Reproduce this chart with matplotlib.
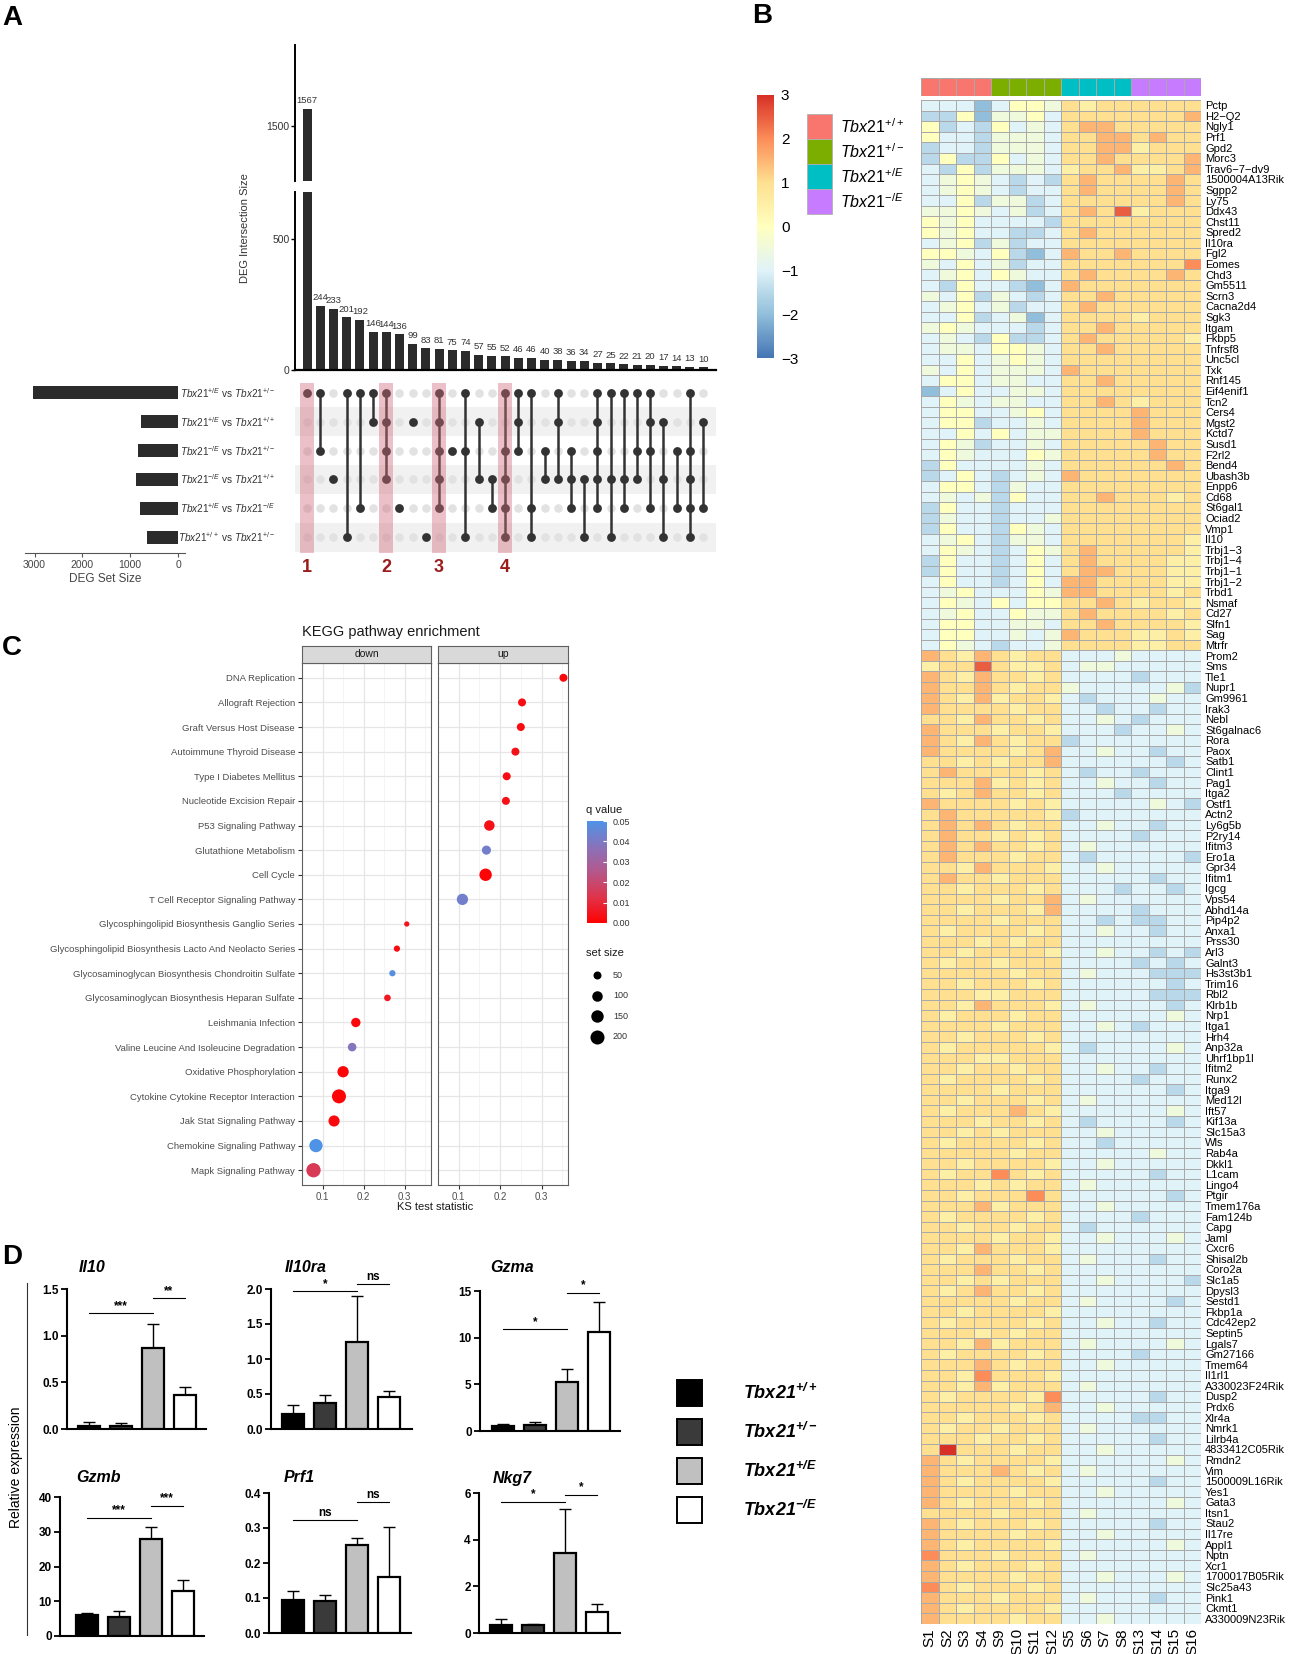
import numpy as np
import matplotlib
matplotlib.use('Agg')
import matplotlib.pyplot as plt
from matplotlib.colors import LinearSegmentedColormap, ListedColormap, Normalize
from matplotlib.patches import Rectangle
import matplotlib.cm as cm

plt.rcParams['font.family'] = ['Liberation Sans', 'DejaVu Sans']
plt.rcParams['mathtext.fontset'] = 'custom'
plt.rcParams['mathtext.rm'] = 'Liberation Sans'
plt.rcParams['mathtext.it'] = 'Liberation Sans:italic'
plt.rcParams['mathtext.bf'] = 'Liberation Sans:italic:bold'
NARROW = ['Liberation Sans Narrow', 'Liberation Sans', 'DejaVu Sans']

# ---------------- data: panel A (upset) ----------------
inter_sizes = [1567, 244, 233, 201, 192, 146, 144, 136, 99, 83, 81, 75, 74, 57, 55, 52,
               46, 46, 40, 38, 36, 34, 27, 25, 22, 21, 20, 17, 14, 13, 10]
membership = ["0", "02", "3", "05", "04", "01", "0123", "4", "1", "5", "01234", "2", "025",
              "13", "34", "02345", "012", "045", "23", "013", "234", "35", "01234", "035",
              "034", "023", "0124", "135", "24", "02345", "14"]
set_labels = [r'$\mathit{Tbx21}^{+/E}$ vs $\mathit{Tbx21}^{+/-}$',
              r'$\mathit{Tbx21}^{+/E}$ vs $\mathit{Tbx21}^{+/+}$',
              r'$\mathit{Tbx21}^{-/E}$ vs $\mathit{Tbx21}^{+/-}$',
              r'$\mathit{Tbx21}^{-/E}$ vs $\mathit{Tbx21}^{+/+}$',
              r'$\mathit{Tbx21}^{+/E}$ vs $\mathit{Tbx21}^{-/E}$',
              r'$\mathit{Tbx21}^{+/+}$ vs $\mathit{Tbx21}^{+/-}$']
set_sizes = [3030, 770, 840, 880, 790, 645]
highlight_cols = [0, 6, 10, 15]

# ---------------- data: panel B (heatmap) ----------------
sample_cols = ['S1', 'S2', 'S3', 'S4', 'S9', 'S10', 'S11', 'S12',
               'S5', 'S6', 'S7', 'S8', 'S13', 'S14', 'S15', 'S16']
sample_group = [0, 0, 0, 0, 1, 1, 1, 1, 2, 2, 2, 2, 3, 3, 3, 3]
group_colors = ['#F8766D', '#7CAE00', '#00BFC4', '#C77CFF']
group_labels = [r'$\mathit{Tbx21}^{+/+}$', r'$\mathit{Tbx21}^{+/-}$',
                r'$\mathit{Tbx21}^{+/E}$', r'$\mathit{Tbx21}^{-/E}$']
genes = ["Pctp", "H2−Q2", "Ngly1", "Prf1", "Gpd2", "Morc3", "Trav6−7−dv9", "1500004A13Rik",
         "Sgpp2", "Ly75", "Ddx43", "Chst11", "Spred2", "Il10ra", "Fgl2", "Eomes", "Chd3",
         "Gm5511", "Scrn3", "Cacna2d4", "Sgk3", "Itgam", "Fkbp5", "Tnfrsf8", "Unc5cl", "Txk",
         "Rnf145", "Eif4enif1", "Tcn2", "Cers4", "Mgst2", "Kctd7", "Susd1", "F2rl2", "Bend4",
         "Ubash3b", "Enpp6", "Cd68", "St6gal1", "Ociad2", "Vmp1", "Il10", "Trbj1−3", "Trbj1−4",
         "Trbj1−1", "Trbj1−2", "Trbd1", "Nsmaf", "Cd27", "Slfn1", "Sag", "Mtrfr",
         "Prom2", "Sms", "Tle1", "Nupr1", "Gm9961", "Irak3", "Nebl", "St6galnac6", "Rora",
         "Paox", "Satb1", "Clint1", "Pag1", "Itga2", "Ostf1", "Actn2", "Ly6g5b", "P2ry14",
         "Ifitm3", "Ero1a", "Gpr34", "Ifitm1", "Igcg", "Vps54", "Abhd14a", "Pip4p2", "Anxa1",
         "Prss30", "Arl3", "Galnt3", "Hs3st3b1", "Trim16", "Rbl2", "Klrb1b", "Nrp1", "Itga1",
         "Hrh4", "Anp32a", "Uhrf1bp1l", "Ifitm2", "Runx2", "Itga9", "Med12l", "Ift57", "Kif13a",
         "Slc15a3", "Wls", "Rab4a", "Dkkl1", "L1cam", "Lingo4", "Ptgir", "Tmem176a", "Fam124b",
         "Capg", "Jaml", "Cxcr6", "Shisal2b", "Coro2a", "Slc1a5", "Dpysl3", "Sestd1", "Fkbp1a",
         "Cdc42ep2", "Septin5", "Lgals7", "Gm27166", "Tmem64", "Il1rl1", "A330023F24Rik",
         "Dusp2", "Prdx6", "Xlr4a", "Nmrk1", "Lilrb4a", "4833412C05Rik", "Rmdn2", "Vim",
         "1500009L16Rik", "Yes1", "Gata3", "Itsn1", "Stau2", "Il17re", "Appl1", "Nptn", "Xcr1",
         "1700017B05Rik", "Slc25a43", "Pink1", "Ckmt1", "A330009N23Rik"]
# z-score levels per cell: a=-2.5 b=-2 c=-1.5 d=-1 e=-0.5 f=0 g=0.5 h=1 i=1.5 j=2 k=2.5 l=3
heat_rows = [
    "dddb dffe hghh hhhh", "ccfb eefd hhhh hhhi", "fcdc fded hiih hhhh", "fddc eeed hhii hihh",
    "cddc eeed hhii ghhh", "cfcc fded hhih hhhi", "dcfc eeed ghhi gghi", "defe dcdc hihh hhih",
    "defe dcdd hihh hhih", "ddfc eecd hhhh hhih", "eefe decd hihk ghhh", "fefd dddc hhhh hhhh",
    "fefd dccd hihh hhhh", "defc ecdd hhhh hhhh", "ffed fcbd ihhi hhhh", "edfd ecdd hhhh hhhj",
    "defd fedd hihh hhih", "dcfd dcbd ihhh hhhh", "edfc edcd hhih hhhh", "defd ecdd hihh hhhh",
    "ddfc debd hhhh ghhh", "efed ddcd hhih hhhh", "dedc fccd hihh hhhg", "deed ffed hhih hhhh",
    "ddfd efed hhhh hhhh", "edfd eeed ihhh hhhh", "dffd eedd hhih hhhh", "bdfd deed hhhh hhhh",
    "dfed eedd hhih ghhh", "dffd defd hhhh ihhh", "dffc dded hhhh ihhh", "ddfd fdee hhhh ihhh",
    "dfec dded hhhh hihh", "dfed ddfe hhhh hihh", "cfdd dded hhhh hhih", "cdfd cded ihhh hhhh",
    "dffd cedd hhhh hhhh", "dede cfdd hhih hhgh", "cfdd cddd hhhh hhhh", "cedd cdde hhhh hhhh",
    "cfdd cfed hhhh hhhh", "defd ceed hhhh hhhg", "dfed cdfe hihh hhhg", "cfdd cdfd hihh hhgg",
    "cfdd cdfd hiih hhgg", "dfdd cdfd iihh hhgg", "defd ddfe iihh hhgh", "dfed fdff hhih ghhg",
    "defd dfee hihh hhgh", "dffd deed hhih hhhg", "dffd dede ihhh gghg", "dfed cdde hhhh gghh",
    "ihgi hghh ddde dddd", "ghhk hggh deed dddd", "ihgi hhgh dddd cddd", "ihhi hghh eddd ddec",
    "ihgi ghhg dcdd dedd", "ihhh hghh ddcd dcdd", "hhgi hhgh dded cddd", "ihhh ghhg dddc dded",
    "ihgi hghh cddd dddd", "ihhh hghi dded dcdd", "hhgh ghhi dddd ddcd", "hihh hhgh dcdd cddd",
    "hhhi ghgh dded dcdd", "hghi hhgh dddc dddd", "ihhh hghg dddd dedc", "hihh hhhg cddd dddd",
    "hihi hghh dded dcdd", "hihh ghgh dddd cddd", "hihi hhgh dedd dddd", "hihh hghh dcdd dddc",
    "hhgi hhhg dded dddd", "hihh ghhh dddd dcdd", "hhgh hhgh dddc ddcd", "hhhh ghhi dedd dddd",
    "hhgh hhgi dddd cddd", "hhhh ghhh ddcd ccdd", "hghh hhgh dded dcdd", "hhhg hghh dddd dddd",
    "hhgh hhhg dded dcdc", "hghh ghhh dddd cdcd", "hhhh hghh dedd dccc", "hhgh hhgh dddd ddcd",
    "hhhg ghhh dddd dccc", "hhgi hhhg dedd ddcd", "hghh hghh dddd dded", "hhhh ghhh dded cddd",
    "hhgh hhgh dddd dddd", "hghh hhhg dcdd dded", "hhhg ghhh dddd dddd", "hhgh hghh dded dcdd",
    "hghh hhgh dddd cddd", "hhhh ghhh dddd ddcd", "hhgh hhgh dedd dddd", "hghh hihg dddd dded",
    "hhhg hhgh dcdd ddcd", "hhgh ghhh dded dddd", "hghh hhgh ddcd dddd", "hhhh hghh dddd dedd",
    "hhgh hhhg dded dddd", "hghh jhgh dddd dcdd", "hhhg hghh dedd dddd", "hhgh hhjh dddd ddcd",
    "hhhi ghhh dded dddd", "hghh hhgh dddd cddd", "hhgh hghh dcdd dddd", "hhhh ghhg dded dded",
    "hhgi hhhg dddd dddd", "hghh hghh dedd dcdd", "hhhi hhgh dddd dddd", "hhgh ghhh dded dddc",
    "hghi hhgh dddd dddd", "hhhh hghh dedd ddcd", "hhgh hhhg dddd dddd", "hghh hhgh dded dcdd",
    "hhhg hghh dddd dddd", "hhgi ghhh dedd dded", "hghh hhgh dddd cddd", "hhhi hghh dded dddd",
    "hhgj hhhg dddd dddd", "hhgi ghhh dedd dddd", "hghh hhgj dddd dcdd", "hhhh hghi dded dddd",
    "hhgh hhgh dddd ccdd", "hghh ghhh dedd dddd", "hhhg hhgh dddd dcdd", "hlhh hghh dded dddd",
    "ihgh hhhg dddd dded", "ihhh ihgh dedd dddd", "ihgh hhhg dddd dcdd", "ihhh hghh dded dddd",
    "ihgh hhgh dddd dded", "hhhh ghhh dedd dddd", "ihgh hhgh dddd dcdd", "ihhh hghh dded dddd",
    "ihgh hhhg dddd dded", "jhhh ghhh dedd dddd", "ihgh hhgh dddd dddd", "ihhh hghh dded dded",
    "jhgh hhgh dddd dddd", "ihhh ghhh dedd dcdd", "ihgh hhhg dddd dddd", "ihhh hghh dded dddd"]
level_of = dict(zip("abcdefghijkl", np.arange(-2.5, 3.01, 0.5)))

# ---------------- data: panel C (KEGG) ----------------
pathways = ["DNA Replication", "Allograft Rejection", "Graft Versus Host Disease",
            "Autoimmune Thyroid Disease", "Type I Diabetes Mellitus", "Nucleotide Excision Repair",
            "P53 Signaling Pathway", "Glutathione Metabolism", "Cell Cycle",
            "T Cell Receptor Signaling Pathway", "Glycosphingolipid Biosynthesis Ganglio Series",
            "Glycosphingolipid Biosynthesis Lacto And Neolacto Series",
            "Glycosaminoglycan Biosynthesis Chondroitin Sulfate",
            "Glycosaminoglycan Biosynthesis Heparan Sulfate", "Leishmania Infection",
            "Valine Leucine And Isoleucine Degradation", "Oxidative Phosphorylation",
            "Cytokine Cytokine Receptor Interaction", "Jak Stat Signaling Pathway",
            "Chemokine Signaling Pathway", "Mapk Signaling Pathway"]
direction = ["up"] * 10 + ["down"] * 11
ks_stat = [0.353, 0.253, 0.250, 0.237, 0.216, 0.214, 0.174, 0.167, 0.165, 0.109,
           0.305, 0.281, 0.270, 0.258, 0.181, 0.172, 0.150, 0.140, 0.128, 0.084, 0.078]
q_value = [0.002, 0.003, 0.003, 0.004, 0.003, 0.004, 0.004, 0.042, 0.001, 0.042,
           0.005, 0.003, 0.048, 0.006, 0.002, 0.038, 0.001, 0.001, 0.002, 0.050, 0.015]
set_size = [50, 50, 50, 50, 50, 50, 100, 70, 150, 120,
            15, 25, 25, 30, 75, 60, 120, 200, 115, 175, 210]

# ---------------- data: panel D (qPCR) ----------------
d_genes = ['Il10', 'Il10ra', 'Gzma', 'Gzmb', 'Prf1', 'Nkg7']
d_means = [[0.03, 0.03, 0.87, 0.36], [0.21, 0.37, 1.24, 0.46], [0.5, 0.6, 5.2, 10.6],
           [6.0, 5.4, 27.8, 13.0], [0.094, 0.091, 0.252, 0.159], [0.35, 0.33, 3.45, 0.88]]
d_err_top = [[0.07, 0.06, 1.13, 0.45], [0.34, 0.48, 1.90, 0.54], [0.7, 1.0, 6.6, 13.8],
             [6.6, 7.2, 31.5, 16.2], [0.12, 0.11, 0.272, 0.303], [0.6, 0.4, 5.3, 1.25]]
d_ymax = [1.5, 2.0, 15, 40, 0.4, 6]
d_yticks = [[0.0, 0.5, 1.0, 1.5], [0.0, 0.5, 1.0, 1.5, 2.0], [0, 5, 10, 15],
            [0, 10, 20, 30, 40], [0.0, 0.1, 0.2, 0.3, 0.4], [0, 2, 4, 6]]
d_sig = [[(0, 2, 1.24, '***'), (2, 3, 1.40, '**')], [(0, 2, 1.97, '*'), (2, 3, 2.07, 'ns')],
         [(0, 2, 10.9, '*'), (2, 3, 14.8, '*')], [(0, 2, 34.1, '***'), (2, 3, 37.5, '***')],
         [(0, 2, 0.323, 'ns'), (2, 3, 0.373, 'ns')], [(0, 2, 5.63, '*'), (2, 3, 5.93, '*')]]
d_labels = [r'$\mathbf{Tbx21^{+/+}}$', r'$\mathbf{Tbx21^{+/-}}$',
            r'$\mathbf{Tbx21^{+/E}}$', r'$\mathbf{Tbx21^{-/E}}$']
d_colors = ['#000000', '#3a3a3a', '#c0c0c0', '#ffffff']

W, H = 1299, 1654
fig = plt.figure(figsize=(W / 100, H / 100), dpi=100)


def box(x0, y0, x1, y1):
    return [x0 / W, 1 - y1 / H, (x1 - x0) / W, (y1 - y0) / H]


ov = fig.add_axes([0, 0, 1, 1])
ov.set_xlim(0, W)
ov.set_ylim(H, 0)
ov.axis('off')
for letter, x, y in [('A', 2, 18), ('B', 752, 16), ('C', 2, 648), ('D', 2, 1257)]:
    ov.text(x, y, letter, fontsize=20, fontweight='bold', va='center', ha='left')

# ================= panel A =================
n = len(inter_sizes)
xs = np.arange(n)
xlim_a = (-0.91, 30.98)
axU = fig.add_axes(box(295, 45, 716, 181))
axL = fig.add_axes(box(295, 192, 716, 370))
for ax, lo, hi in [(axU, 1290, 1810), (axL, 0, 680)]:
    ax.bar(xs, inter_sizes, width=0.68, color='#2b2b2b')
    ax.set_ylim(lo, hi)
    ax.set_xlim(*xlim_a)
    ax.set_xticks([])
    for s in ['top', 'right']:
        ax.spines[s].set_visible(False)
    ax.spines['left'].set_linewidth(1.4)
    ax.tick_params(axis='y', labelsize=7.5, length=3, width=1, pad=1, labelcolor='#333333')
    ax.patch.set_alpha(0)
axU.spines['bottom'].set_visible(False)
axU.set_yticks([1500])
axL.set_yticks([0, 500])
axL.spines['bottom'].set_linewidth(1.6)
for ax in (axU, axL):
    for t in ax.get_yticklabels():
        t.set_family(NARROW)
for i, v in enumerate(inter_sizes):
    ax = axU if v > 680 else axL
    ax.text(i, v + 14, str(v), ha='center', va='bottom', fontsize=6.8, family=NARROW,
            color='#333333')
ov.text(245, 228, 'DEG Intersection Size', rotation=90, ha='center', va='center',
        fontsize=8, color='#333333')

axM = fig.add_axes(box(295, 380, 716, 553))
axM.set_xlim(*xlim_a)
axM.set_ylim(5.55, -0.45)
axM.axis('off')
for r in (1, 3, 5):
    axM.axhspan(r - 0.5, r + 0.5, xmin=0.0, xmax=1.0, color='#f1f1f1', zorder=0, lw=0)
gx, gy = np.meshgrid(xs, np.arange(6))
axM.scatter(gx.ravel(), gy.ravel(), s=38, color='#e2e2e2', zorder=1, lw=0)
for i, m in enumerate(membership):
    rows = [int(c) for c in m]
    if len(rows) > 1:
        axM.plot([i, i], [min(rows), max(rows)], color='#333333', lw=1.8, zorder=2)
    axM.scatter([i] * len(rows), rows, s=40, color='#333333', zorder=3, lw=0)
for k, c in enumerate(highlight_cols):
    axM.add_patch(Rectangle((c - 0.53, -0.35), 1.06, 5.9, facecolor='#d06a7c', alpha=0.42,
                            lw=0, zorder=5))
    ov.text(307 + 13.2 * c, 567, str(k + 1), ha='center', va='center', fontsize=13,
            fontweight='bold', color='#9b1b1b', family=NARROW)
for r, lab in enumerate(set_labels):
    ov.text(275, 393 + 28.8 * r, lab, ha='right', va='center', fontsize=7.2, color='#333333')

axS = fig.add_axes(box(25, 380, 185, 553))
axS.barh(np.arange(6), set_sizes, height=0.45, color='#2b2b2b')
axS.set_xlim(3199, -146)
axS.set_ylim(5.55, -0.45)
axS.set_yticks([])
axS.set_xticks([3000, 2000, 1000, 0])
for s in ['top', 'right', 'left']:
    axS.spines[s].set_visible(False)
axS.spines['bottom'].set_color('#555555')
axS.tick_params(axis='x', labelsize=7.5, length=3, pad=2, labelcolor='#444444', color='#555555')
for t in axS.get_xticklabels():
    t.set_family(NARROW)
axS.set_xlabel('DEG Set Size', fontsize=8.5, color='#444444', labelpad=2)
axS.patch.set_alpha(0)

# ================= panel B =================
M = np.array([[level_of[ch] for ch in row.replace(' ', '')] for row in heat_rows])
heat_cmap = LinearSegmentedColormap.from_list(
    'pheat', ['#4575B4', '#91BFDB', '#E0F3F8', '#FFFFBF', '#FEE090', '#FC8D59', '#D73027'])
axH = fig.add_axes(box(921, 100, 1201, 1624))
axH.pcolormesh(M, cmap=heat_cmap, vmin=-3, vmax=3, edgecolors='#a9a9a9', linewidth=0.7)
axH.set_xlim(0, 16)
axH.set_ylim(len(genes), 0)
axH.yaxis.tick_right()
axH.set_yticks(np.arange(len(genes)) + 0.5, labels=genes)
axH.set_xticks(np.arange(16) + 0.5, labels=sample_cols, rotation=90)
axH.tick_params(axis='y', length=0, labelsize=8, pad=3)
axH.tick_params(axis='x', length=0, labelsize=11, pad=3)
for s in axH.spines.values():
    s.set_visible(False)

axAn = fig.add_axes(box(921, 78, 1201, 96))
axAn.pcolormesh(np.array([sample_group]), cmap=ListedColormap(group_colors), vmin=-0.5,
                vmax=3.5, edgecolors='#a9a9a9', linewidth=0.7)
axAn.set_xlim(0, 16)
axAn.axis('off')

axCb = fig.add_axes(box(757, 95, 774, 358))
sm = cm.ScalarMappable(norm=Normalize(-3, 3), cmap=heat_cmap)
cb = fig.colorbar(sm, cax=axCb, ticks=[-3, -2, -1, 0, 1, 2, 3])
cb.outline.set_visible(False)
axCb.tick_params(length=0, labelsize=11, pad=5)

for k in range(4):
    ov.add_patch(Rectangle((807, 114 + 25 * k), 25, 25, facecolor=group_colors[k],
                           edgecolor='#b0b0b0', lw=0.6))
    ov.text(840, 114 + 25 * k + 12.5, group_labels[k], fontsize=11.5, va='center', ha='left')

# ================= panel C =================
q_cmap = LinearSegmentedColormap.from_list(
    'qv', ['#FF0000', '#E0334A', '#B5578A', '#8873BB', '#4F93E6'])
ov.text(302, 632, 'KEGG pathway enrichment', fontsize=10.5, ha='left', va='center',
        color='#1a1a1a')
rows_c = np.arange(len(pathways))
for name, x0, x1 in [('down', 302, 431), ('up', 438, 568)]:
    ax = fig.add_axes(box(x0, 663, x1, 1185))
    ax.set_xlim(0.064, 0.364)
    ax.set_ylim(len(pathways) - 0.4, -0.6)
    ax.set_xticks([0.1, 0.2, 0.3])
    ax.set_xticks([0.05, 0.15, 0.25, 0.35], minor=True)
    ax.set_yticks(rows_c)
    ax.grid(which='major', color='#e6e6e6', lw=0.9)
    ax.grid(which='minor', axis='x', color='#f0f0f0', lw=0.5)
    ax.set_axisbelow(True)
    for s in ax.spines.values():
        s.set_color('#606060')
        s.set_linewidth(0.8)
    ax.tick_params(which='minor', length=0)
    ax.tick_params(axis='x', labelsize=7, length=3, color='#333333', labelcolor='#4d4d4d', pad=2)
    if name == 'down':
        ax.set_yticklabels(pathways)
        ax.tick_params(axis='y', labelsize=6.8, length=3, color='#333333', labelcolor='#4d4d4d',
                       pad=2)
    else:
        ax.set_yticklabels([])
        ax.tick_params(axis='y', length=0)
    idx = [i for i in range(len(pathways)) if direction[i] == name]
    ax.scatter([ks_stat[i] for i in idx], idx,
               s=[((2.0 + 0.85 * np.sqrt(set_size[i])) * 0.72) ** 2 for i in idx],
               c=[q_cmap(q_value[i] / 0.05) for i in idx], lw=0, zorder=3)
    st = fig.add_axes(box(x0, 646, x1, 663))
    st.set_facecolor('#d9d9d9')
    st.set_xticks([])
    st.set_yticks([])
    for s in st.spines.values():
        s.set_color('#606060')
        s.set_linewidth(0.8)
    st.text(0.5, 0.5, name, ha='center', va='center', fontsize=7.5, color='#1a1a1a',
            transform=st.transAxes)
ov.text(435, 1207, 'KS test statistic', fontsize=8, ha='center', va='center', color='#1a1a1a')

ov.text(586, 810, 'q value', fontsize=8, ha='left', va='center', color='#1a1a1a')
axQ = fig.add_axes(box(587, 821, 607, 923))
qsm = cm.ScalarMappable(norm=Normalize(0, 0.05), cmap=q_cmap)
qcb = fig.colorbar(qsm, cax=axQ, ticks=[0, 0.01, 0.02, 0.03, 0.04, 0.05], format='%.2f')
qcb.outline.set_visible(False)
axQ.tick_params(labelsize=6.5, length=3, color='white', direction='in', pad=4,
                labelcolor='#333333')
ov.text(586, 953, 'set size', fontsize=8, ha='left', va='center', color='#1a1a1a')
for k, v in enumerate([50, 100, 150, 200]):
    y = 975 + 20.6 * k
    ov.scatter([597], [y], s=((2.0 + 0.85 * np.sqrt(v)) * 0.72) ** 2, color='black', lw=0)
    ov.text(613, y, str(v), fontsize=6.5, va='center', ha='left', color='#333333')

# ================= panel D =================
d_layout = [(67, 206, 89, 1289, 1429, 92, 1268), (271, 412, 293, 1289, 1429, 306, 1268),
            (480, 620, 503, 1291, 1431, 512, 1268), (60, 204, 87, 1497, 1636, 98, 1478),
            (269, 411, 293, 1493, 1633, 299, 1478), (479, 620, 501, 1493, 1633, 512, 1478)]
for g in range(6):
    xl, xr, c0, yt, yb, tx, ty = d_layout[g]
    ax = fig.add_axes(box(xl, yt, xr, yb))
    pos = np.arange(4)
    means = np.array(d_means[g])
    tops = np.array(d_err_top[g])
    ax.bar(pos, means, width=0.69, color=d_colors, edgecolor='black', lw=1.6, zorder=3)
    ax.errorbar(pos, means, yerr=[np.zeros(4), tops - means], fmt='none', ecolor='black',
                elinewidth=1.0, capsize=4, capthick=1.0, zorder=2)
    ax.set_xlim((xl - c0) / 32.0, (xr - c0) / 32.0)
    ax.set_ylim(0, d_ymax[g])
    ax.set_yticks(d_yticks[g])
    if g in (0, 1, 4):
        ax.set_yticklabels(['%.1f' % t for t in d_yticks[g]])
    ax.set_xticks([])
    for s in ['top', 'right']:
        ax.spines[s].set_visible(False)
    for s in ['left', 'bottom']:
        ax.spines[s].set_linewidth(1.5)
    ax.tick_params(axis='y', labelsize=8.5, length=4, width=1.3, pad=2)
    for t in ax.get_yticklabels():
        t.set_fontweight('bold')
    ax.patch.set_alpha(0)
    for a, b, y, lab in d_sig[g]:
        ax.plot([a, b], [y, y], color='black', lw=0.8, clip_on=False)
        ax.annotate(lab, (0.5 * (a + b), y), xytext=(0, 1), textcoords='offset points',
                    ha='center', va='bottom', fontsize=8.5, fontweight='bold',
                    annotation_clip=False)
    ov.text(tx, ty, d_genes[g], fontsize=11.5, fontweight='bold', style='italic',
            ha='center', va='center')

ov.text(16, 1467, 'Relative expression', rotation=90, fontsize=10, ha='center', va='center')
ov.plot([27, 27], [1283, 1635], color='#333333', lw=0.8)
for k in range(4):
    yc = 1393 + 39 * k
    ov.add_patch(Rectangle((677, yc - 13), 25, 26, facecolor=d_colors[k], edgecolor='black',
                           lw=1.4))
    ov.text(743, yc, d_labels[k], fontsize=13, ha='left', va='center')

fig.savefig('out.png', dpi=100)
